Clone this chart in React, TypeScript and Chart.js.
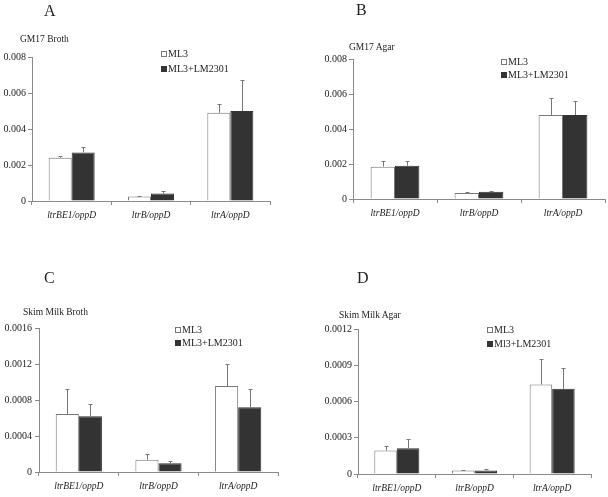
import React, { useEffect, useRef } from 'react';
import { Chart, registerables } from 'chart.js';

Chart.register(...registerables);

// ---------- data ----------
const categories = ['ltrBE1/oppD', 'ltrB/oppD', 'ltrA/oppD'];
const seriesNames = ['ML3', 'ML3+LM2301'];
const seriesNamesD = ['ML3', 'Ml3+LM2301'];

// A: GM17 Broth
const gm17BrothML3 = [0.0024, 0.00025, 0.0049];
const gm17BrothML3Err = [0.00012, 0.00005, 0.00047];
const gm17BrothLM = [0.0027, 0.00041, 0.005];
const gm17BrothLMErr = [0.0003, 0.00016, 0.0017];
const gm17BrothTicks = [0, 0.002, 0.004, 0.006, 0.008];

// B: GM17 Agar
const gm17AgarML3 = [0.00185, 0.00035, 0.0048];
const gm17AgarML3Err = [0.0003, 0.00007, 0.00096];
const gm17AgarLM = [0.0019, 0.00042, 0.0048];
const gm17AgarLMErr = [0.0003, 0.00002, 0.0008];
const gm17AgarTicks = [0, 0.002, 0.004, 0.006, 0.008];

// C: Skim Milk Broth
const skimBrothML3 = [0.000645, 0.000137, 0.000955];
const skimBrothML3Err = [0.00028, 0.000063, 0.000245];
const skimBrothLM = [0.00062, 0.000096, 0.00072];
const skimBrothLMErr = [0.000136, 0.000026, 0.000206];
const skimBrothTicks = [0, 0.0004, 0.0008, 0.0012, 0.0016];

// D: Skim Milk Agar
const skimAgarML3 = [0.000194, 0.000028, 0.00074];
const skimAgarML3Err = [0.000041, 0.000005, 0.000214];
const skimAgarLM = [0.000213, 0.000028, 0.000705];
const skimAgarLMErr = [0.00008, 0.000011, 0.000174];
const skimAgarTicks = [0, 0.0003, 0.0006, 0.0009, 0.0012];

// ---------- styles ----------
const FONT = "'Liberation Serif', 'Times New Roman', serif";
const TEXT = '#222';
const AXIS = '#8a8a8a';
const DARK = '#333333';
const WHITE_BORDER = '#777';
const ERR = '#777';

type PanelCfg = {
  key: string;
  letter: string;
  subtitle: string;
  names: string[];
  ml3: number[];
  ml3Err: number[];
  lm: number[];
  lmErr: number[];
  ticks: number[];
  box: { left: number; top: number; width: number; height: number };
  area: { left: number; right: number; top: number; bottom: number };
  yPad: number;
  letterPos: { x: number; y: number };
  subPos: { x: number; y: number };
  legendPos: { x: number; y1: number; y2: number };
};

const panels: PanelCfg[] = [
  {
    key: 'A', letter: 'A', subtitle: 'GM17 Broth', names: seriesNames,
    ml3: gm17BrothML3, ml3Err: gm17BrothML3Err, lm: gm17BrothLM, lmErr: gm17BrothLMErr,
    ticks: gm17BrothTicks,
    box: { left: 0, top: 0, width: 304, height: 248 },
    area: { left: 32, right: 270, top: 57, bottom: 201 },
    yPad: 2,
    letterPos: { x: 44, y: 11 }, subPos: { x: 20, y: 39 },
    legendPos: { x: 161, y1: 54, y2: 69 },
  },
  {
    key: 'B', letter: 'B', subtitle: 'GM17 Agar', names: seriesNames,
    ml3: gm17AgarML3, ml3Err: gm17AgarML3Err, lm: gm17AgarLM, lmErr: gm17AgarLMErr,
    ticks: gm17AgarTicks,
    box: { left: 304, top: 0, width: 304, height: 248 },
    area: { left: 353, right: 605, top: 59, bottom: 199 },
    yPad: 2,
    letterPos: { x: 356, y: 10 }, subPos: { x: 349, y: 47 },
    legendPos: { x: 501, y1: 62, y2: 75 },
  },
  {
    key: 'C', letter: 'C', subtitle: 'Skim Milk Broth', names: seriesNames,
    ml3: skimBrothML3, ml3Err: skimBrothML3Err, lm: skimBrothLM, lmErr: skimBrothLMErr,
    ticks: skimBrothTicks,
    box: { left: 0, top: 248, width: 304, height: 249 },
    area: { left: 39, right: 278, top: 328, bottom: 472 },
    yPad: 3,
    letterPos: { x: 44, y: 278 }, subPos: { x: 23, y: 312 },
    legendPos: { x: 175, y1: 330, y2: 343 },
  },
  {
    key: 'D', letter: 'D', subtitle: 'Skim Milk Agar', names: seriesNamesD,
    ml3: skimAgarML3, ml3Err: skimAgarML3Err, lm: skimAgarLM, lmErr: skimAgarLMErr,
    ticks: skimAgarTicks,
    box: { left: 304, top: 248, width: 304, height: 249 },
    area: { left: 358, right: 591, top: 329, bottom: 474 },
    yPad: 2,
    letterPos: { x: 357, y: 278 }, subPos: { x: 339, y: 315 },
    legendPos: { x: 487, y1: 330, y2: 344 },
  },
];

const errorBarPlugin = {
  id: 'errorBars',
  afterDatasetsDraw(chart: any) {
    const ctx = chart.ctx;
    const yScale = chart.scales.y;
    ctx.save();
    ctx.strokeStyle = ERR;
    ctx.lineWidth = 1;
    chart.data.datasets.forEach((ds: any, i: number) => {
      const meta = chart.getDatasetMeta(i);
      meta.data.forEach((el: any, j: number) => {
        const v = ds.data[j];
        const e = ds.errors[j];
        const x = Math.round(el.x) + 0.5;
        const yv = yScale.getPixelForValue(v);
        const yt = Math.round(yScale.getPixelForValue(v + e)) + 0.5;
        ctx.beginPath();
        ctx.moveTo(x, yv);
        ctx.lineTo(x, yt);
        ctx.moveTo(x - 2, yt);
        ctx.lineTo(x + 2, yt);
        ctx.stroke();
      });
    });
    ctx.restore();
  },
};

const X_H = 22;

function Panel({ cfg }: { cfg: PanelCfg }) {
  const ref = useRef<HTMLCanvasElement | null>(null);
  useEffect(() => {
    const canvas = ref.current;
    if (!canvas) return;
    const { box, area } = cfg;
    const localLeft = area.left - box.left;
    const localRight = area.right - box.left;
    const localTop = area.top - box.top;
    const localBottom = area.bottom - box.top;
    const chart = new Chart(canvas, {
      type: 'bar',
      data: {
        labels: categories,
        datasets: [
          {
            label: cfg.names[0],
            data: cfg.ml3,
            errors: cfg.ml3Err,
            backgroundColor: '#ffffff',
            borderColor: WHITE_BORDER,
            borderWidth: 1,
            categoryPercentage: 0.58,
            barPercentage: 1.0,
          } as any,
          {
            label: cfg.names[1],
            data: cfg.lm,
            errors: cfg.lmErr,
            backgroundColor: DARK,
            borderColor: DARK,
            borderWidth: 1,
            categoryPercentage: 0.58,
            barPercentage: 1.0,
          } as any,
        ],
      },
      options: {
        responsive: false,
        animation: false,
        devicePixelRatio: 1,
        events: [],
        layout: {
          padding: {
            left: 0,
            top: localTop,
            right: box.width - localRight,
            bottom: box.height - localBottom - X_H,
          },
        },
        plugins: {
          legend: { display: false },
          tooltip: { enabled: false },
          title: { display: false },
        },
        scales: {
          x: {
            offset: true,
            grid: {
              display: true,
              drawOnChartArea: false,
              drawTicks: true,
              tickLength: 4,
              color: AXIS,
              offset: true,
            },
            border: { display: true, color: AXIS, width: 1 },
            ticks: {
              color: TEXT,
              font: { family: FONT, size: 9.5, style: 'italic' },
              padding: 5,
              maxRotation: 0,
              autoSkip: false,
            },
            afterFit: (s: any) => {
              s.height = X_H;
            },
          },
          y: {
            min: cfg.ticks[0],
            max: cfg.ticks[cfg.ticks.length - 1],
            grid: {
              display: true,
              drawOnChartArea: false,
              drawTicks: true,
              tickLength: 4,
              color: AXIS,
            },
            border: { display: true, color: AXIS, width: 1 },
            ticks: {
              color: TEXT,
              font: { family: FONT, size: 10 },
              padding: cfg.yPad,
              callback: (v: any) => String(v),
            },
            afterBuildTicks: (s: any) => {
              s.ticks = cfg.ticks.map((v) => ({ value: v }));
            },
            afterFit: (s: any) => {
              s.width = localLeft;
            },
          },
        },
      } as any,
      plugins: [errorBarPlugin],
    });
    return () => chart.destroy();
  }, [cfg]);

  const { box } = cfg;
  const lp = cfg.legendPos;
  const textStyle: React.CSSProperties = {
    position: 'absolute',
    fontFamily: FONT,
    color: TEXT,
    whiteSpace: 'nowrap',
    lineHeight: 1,
  };
  return (
    <>
      <canvas
        ref={ref}
        width={box.width}
        height={box.height}
        style={{
          position: 'absolute',
          left: box.left,
          top: box.top,
          width: box.width,
          height: box.height,
        }}
      />
      <div
        style={{
          ...textStyle,
          left: cfg.letterPos.x,
          top: cfg.letterPos.y - 8,
          fontSize: 16,
          lineHeight: '16px',
        }}
      >
        {cfg.letter}
      </div>
      <div
        style={{
          ...textStyle,
          left: cfg.subPos.x,
          top: cfg.subPos.y - 5,
          fontSize: 9.5,
          lineHeight: '10px',
        }}
      >
        {cfg.subtitle}
      </div>
      {[lp.y1, lp.y2].map((y, i) => (
        <div
          key={i}
          style={{
            ...textStyle,
            left: lp.x,
            top: y - 5,
            height: 10,
            fontSize: 10,
            lineHeight: '10px',
            display: 'flex',
            alignItems: 'center',
          }}
        >
          <span
            style={{
              display: 'inline-block',
              width: 6,
              height: 6,
              boxSizing: 'border-box',
              border: `1px solid ${i === 0 ? WHITE_BORDER : DARK}`,
              background: i === 0 ? '#fff' : DARK,
              marginRight: 1,
            }}
          />
          <span>{cfg.names[i]}</span>
        </div>
      ))}
    </>
  );
}

export default function App() {
  return (
    <div
      style={{
        position: 'absolute',
        left: 0,
        top: 0,
        width: 608,
        height: 497,
        background: '#ffffff',
        overflow: 'hidden',
      }}
    >
      {panels.map((p) => (
        <Panel key={p.key} cfg={p} />
      ))}
    </div>
  );
}
